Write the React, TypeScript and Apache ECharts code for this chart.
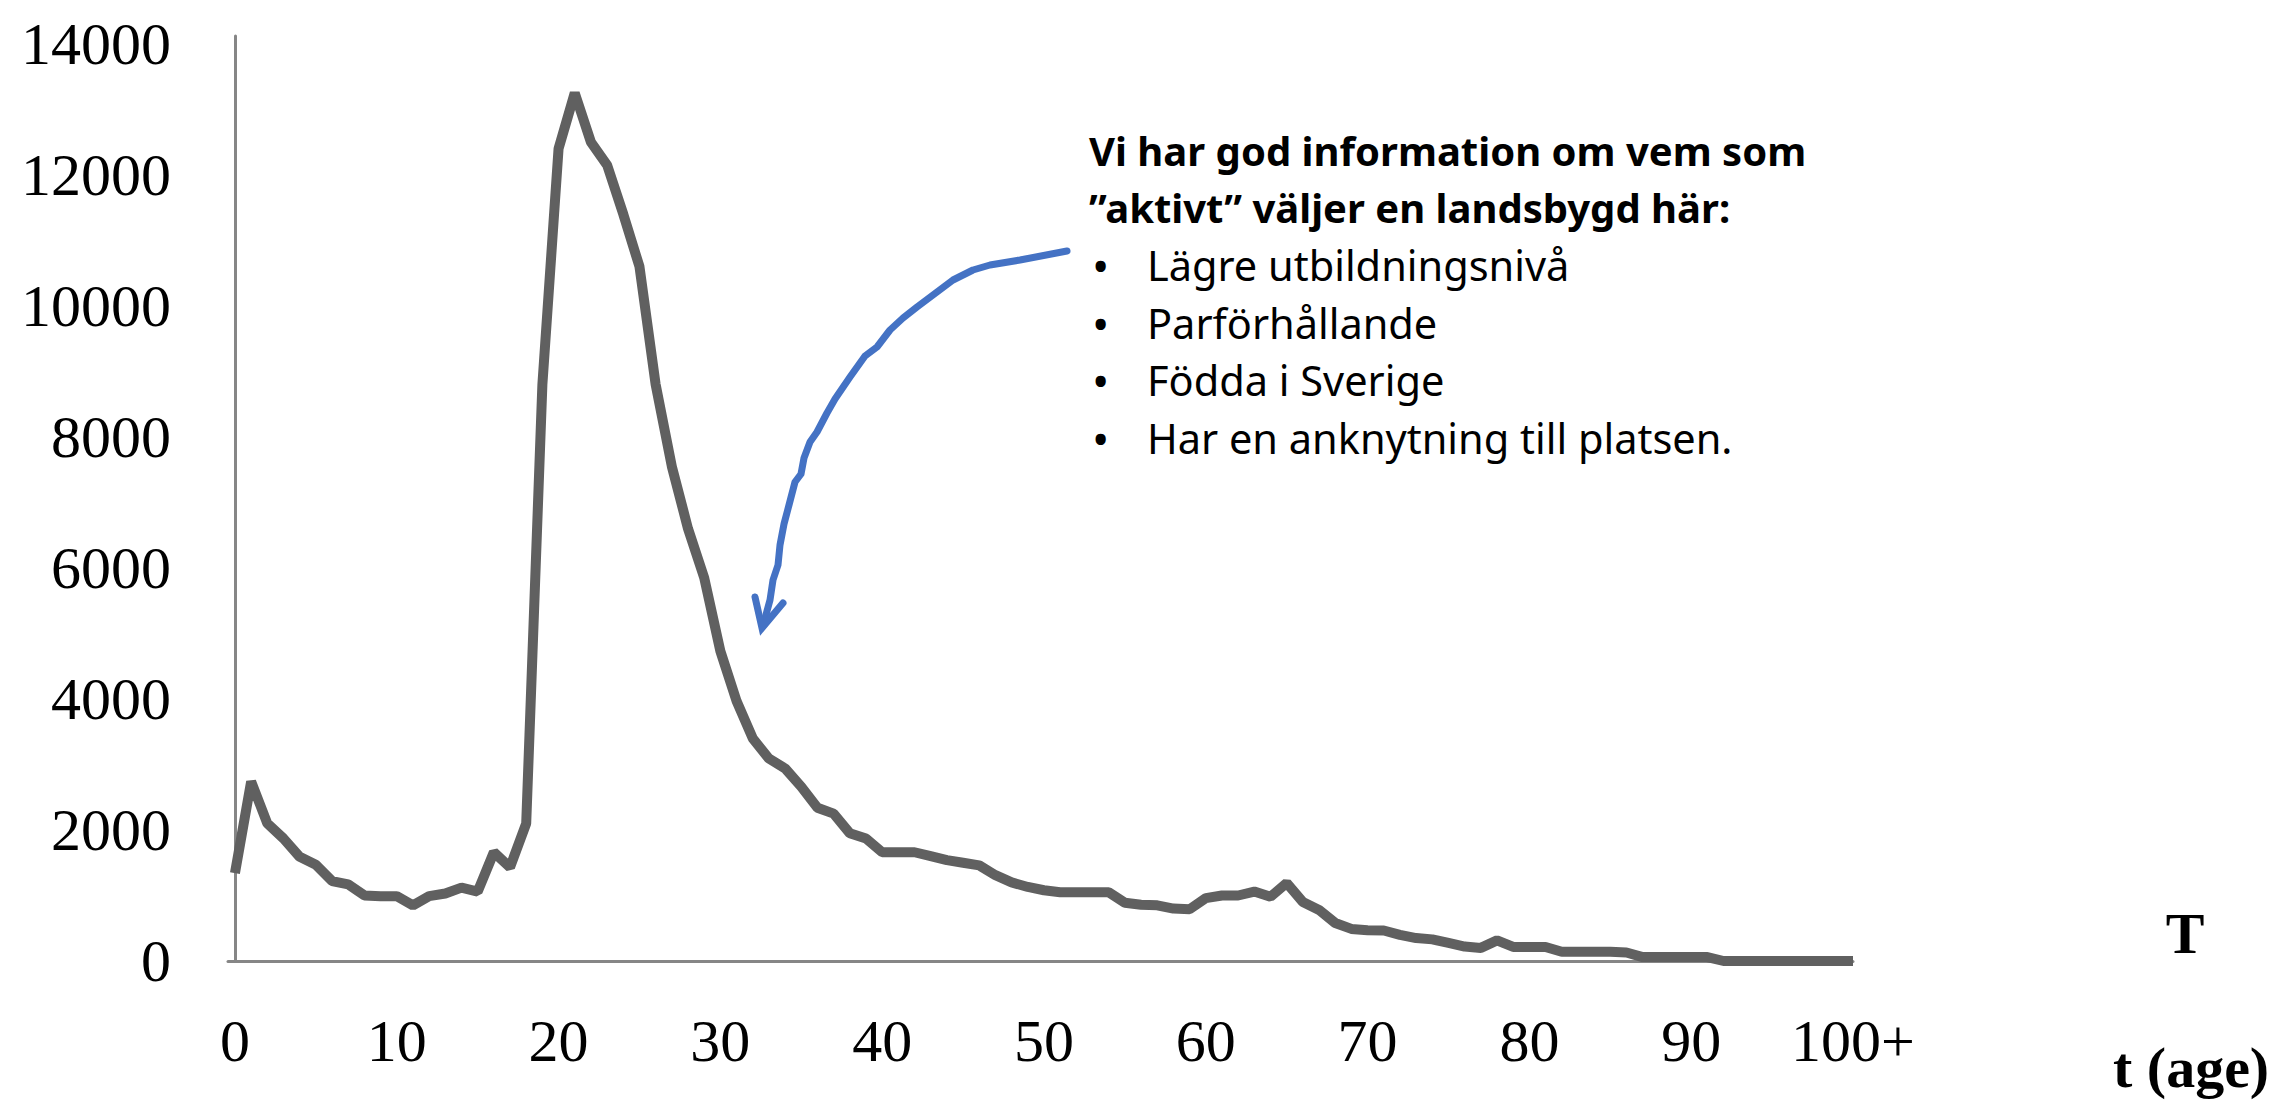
import React, { useEffect, useRef } from "react";
import * as echarts from "echarts";

const ages: number[] = Array.from({ length: 101 }, (_, i) => i);
const migrants: number[] = [
  1340, 2740, 2100, 1870, 1590, 1470, 1220, 1170, 1000, 990,
  990, 850, 990, 1030, 1120, 1060, 1660, 1430, 2100, 8800,
  12400, 13250, 12500, 12150, 11400, 10600, 8800, 7550, 6600, 5850,
  4730, 3970, 3400, 3090, 2940, 2660, 2340, 2250, 1950, 1870,
  1660, 1660, 1660, 1600, 1540, 1500, 1460, 1310, 1200, 1130,
  1080, 1050, 1050, 1050, 1050, 890, 860, 850, 800, 790,
  960, 1000, 1000, 1060, 980, 1190, 900, 780, 580, 490,
  470, 465, 400, 350, 330, 275, 220, 200, 315, 215,
  215, 215, 140, 140, 140, 140, 130, 60, 60, 60,
  60, 60, 0, 0, 0, 0, 0, 0, 0, 0,
  0,
];
const xTickValues: number[] = [0, 10, 20, 30, 40, 50, 60, 70, 80, 90, 100];
const yTickValues: number[] = [0, 2000, 4000, 6000, 8000, 10000, 12000, 14000];

const headingLines: string[] = [
  "Vi har god information om vem som",
  "\u201daktivt\u201d väljer en landsbygd här:",
];
const bulletItems: string[] = [
  "Lägre utbildningsnivå",
  "Parförhållande",
  "Födda i Sverige",
  "Har en anknytning till platsen.",
];

const arrowPoints: number[][] = [
  [1067, 251], [1020, 260], [990, 265], [973, 270], [953, 280], [937, 292],
  [917, 307], [903, 318], [890, 330], [877, 347], [865, 356], [850, 377],
  [835, 399], [827, 413], [817, 432], [810, 442], [804, 458], [801, 474],
  [795, 482], [789, 505], [784, 524], [780, 545], [778, 565], [773, 580],
  [770, 600], [764, 622],
];

export default function App() {
  const ref = useRef<HTMLDivElement>(null);
  useEffect(() => {
    if (!ref.current) return;
    const chart = echarts.init(ref.current, null, { renderer: "svg" });
    const textFont = "'Noto Sans', sans-serif";
    const serif = "'Liberation Serif', serif";
    const graphics: any[] = [];
    headingLines.forEach((t, i) => {
      graphics.push({
        type: "text",
        x: 1089,
        y: 150 + i * 57,
        style: {
          text: t,
          fontFamily: textFont,
          fontWeight: "bold",
          fontSize: 40,
          fill: "#000",
          verticalAlign: "middle",
        },
      });
    });
    bulletItems.forEach((t, i) => {
      const y = 265 + i * 57.5;
      graphics.push({
        type: "text",
        x: 1092,
        y,
        style: {
          text: "{b|\u2022}{t|" + t + "}",
          verticalAlign: "middle",
          fill: "#000",
          rich: {
            b: { fontFamily: textFont, fontSize: 46, width: 55, verticalAlign: "middle", fill: "#000" },
            t: { fontFamily: textFont, fontSize: 41.5, verticalAlign: "middle", fill: "#000" },
          },
        },
      });
    });
    graphics.push({
      type: "polyline",
      shape: { points: arrowPoints },
      style: { stroke: "#4472C4", lineWidth: 7, fill: null, lineJoin: "round", lineCap: "round" },
    });
    graphics.push({
      type: "polyline",
      shape: { points: [[755, 597], [762, 628], [783, 603]] },
      style: { stroke: "#4472C4", lineWidth: 7, fill: null, lineJoin: "miter", lineCap: "round" },
    });
    graphics.push({
      type: "text",
      x: 2185,
      y: 933,
      style: {
        text: "T",
        fontFamily: serif,
        fontWeight: "bold",
        fontSize: 58,
        fill: "#000",
        align: "center",
        verticalAlign: "middle",
      },
    });
    graphics.push({
      type: "text",
      x: 2113,
      y: 1067,
      style: {
        text: "t (age)",
        fontFamily: serif,
        fontWeight: "bold",
        fontSize: 58,
        fill: "#000",
        align: "left",
        verticalAlign: "middle",
      },
    });

    chart.setOption({
      animation: false,
      backgroundColor: "#ffffff",
      grid: {
        left: 228,
        right: 424,
        top: 36,
        bottom: 140,
        containLabel: false,
        outerBoundsMode: "none",
      },
      xAxis: {
        type: "value",
        min: -0.43,
        max: 100,
        axisLine: { show: true, onZero: false, lineStyle: { color: "#868686", width: 3 } },
        axisTick: { show: false },
        splitLine: { show: false },
        axisLabel: {
          customValues: xTickValues,
          formatter: (v: number) => (v === 100 ? "100+" : String(v)),
          fontFamily: serif,
          fontSize: 60,
          color: "#000",
          margin: 50,
        },
      },
      yAxis: {
        type: "value",
        min: 0,
        max: 14120,
        axisLine: { show: true, lineStyle: { color: "#868686", width: 3 } },
        axisTick: { show: false },
        splitLine: { show: false },
        axisLabel: {
          customValues: yTickValues,
          formatter: (v: number) => String(v),
          fontFamily: serif,
          fontSize: 60,
          color: "#000",
          margin: 57,
        },
      },
      series: [
        {
          type: "line",
          data: ages.map((a, i) => [a, migrants[i]]),
          showSymbol: false,
          symbol: "none",
          lineStyle: { color: "#606060", width: 10 },
          z: 3,
        },
      ],
      graphic: graphics,
    });
    return () => chart.dispose();
  }, []);
  return (
    <div
      ref={ref}
      style={{ position: "fixed", left: 0, top: 0, width: 2277, height: 1101, background: "#fff" }}
    />
  );
}
